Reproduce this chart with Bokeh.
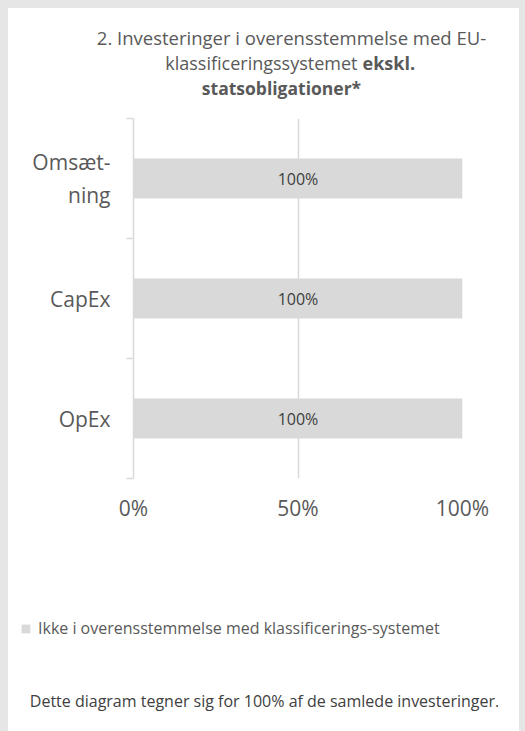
from bokeh.plotting import figure
from bokeh.layouts import column
from bokeh.models import (ColumnDataSource, Range1d, FixedTicker, PrintfTickFormatter,
                          Label, Legend, LegendItem, GlobalInlineStyleSheet)
from bokeh.core.properties import value
from bokeh.embed import file_html
from bokeh.resources import INLINE

# ---- data (bottom to top) ----
categories = ["OpEx", "CapEx", "Omsætning"]
category_labels = ["OpEx", "CapEx", "Omsæt-\nning"]
values = [100, 100, 100]
bar_labels = ["100%", "100%", "100%"]
x_ticks = [0, 50, 100]
series_name = "Ikke i overensstemmelse med klassificerings-systemet"
title_line1 = "2. Investeringer i overensstemmelse med EU-"
title_line2a = "klassificeringssystemet"
title_line2b = "ekskl."
title_line3 = "statsobligationer*"
footer = "Dette diagram tegner sig for 100% af de samlede investeringer."

FONT = "Open Sans"
TXT = "#595959"
DARK = "#404040"
GRID = "#d9d9d9"
BAR = "#d9d9d9"
W = 511

page_css = GlobalInlineStyleSheet(css=(
    "html,body{background:#e7e6e6 !important;margin:0 !important;}"
    "body{padding:8px 0 0 8px !important;box-sizing:border-box !important;}"))


def blank(height):
    f = figure(width=W, height=height, output_backend="svg", toolbar_location=None,
               x_range=Range1d(0, 1), y_range=Range1d(0, 1),
               min_border=0, min_border_left=0, min_border_right=0,
               min_border_top=0, min_border_bottom=0)
    f.frame_align = False
    f.axis.visible = False
    f.grid.visible = False
    f.outline_line_color = None
    f.background_fill_color = "white"
    f.border_fill_color = "white"
    return f


# ---- title block ----
top = blank(105)
top.stylesheets = [page_css]
tkw = dict(x_units="screen", y_units="screen", text_font=FONT,
           text_font_size="18px", text_color=TXT, text_baseline="middle")
top.add_layout(Label(x=283, y=76, text=title_line1, text_align="center",
                     **dict(tkw, text_font_size="18.5px")))
top.add_layout(Label(x=349, y=51, text=title_line2a, text_align="right", **tkw))
top.add_layout(Label(x=354, y=51, text=title_line2b, text_align="left",
                     text_font_style="bold", **tkw))
top.add_layout(Label(x=273, y=26, text=title_line3, text_align="center",
                     text_font_style="bold", **dict(tkw, text_font_size="17.5px")))

# ---- chart ----
pos = [i + 0.5 for i in range(len(categories))]
src = ColumnDataSource(dict(
    y=pos, right=values, left=[0] * len(values),
    xm=[v / 2 for v in values], lab=bar_labels))

chart = figure(width=W, height=425, output_backend="svg", toolbar_location=None,
               x_range=Range1d(0, 100), y_range=Range1d(0, len(categories)),
               min_border_left=125, min_border_right=57,
               min_border_top=5, min_border_bottom=60)
chart.frame_align = False
chart.outline_line_color = None
chart.background_fill_color = "white"
chart.border_fill_color = "white"

chart.hbar(y="y", left="left", right="right", height=1 / 3, source=src,
           fill_color=BAR, line_color=None)
chart.text(x="xm", y="y", text="lab", source=src, text_align="center",
           text_baseline="middle", text_font=value(FONT), text_font_size="16px",
           text_color=DARK)

chart.xaxis.ticker = FixedTicker(ticks=x_ticks)
chart.xaxis.formatter = PrintfTickFormatter(format="%d%%")
chart.xaxis.axis_line_color = None
chart.xaxis.major_tick_line_color = None
chart.xaxis.minor_tick_line_color = None
chart.xaxis.major_label_text_font = FONT
chart.xaxis.major_label_text_font_size = "21px"
chart.xaxis.major_label_text_color = TXT
chart.xaxis.major_label_standoff = 9

chart.yaxis.ticker = FixedTicker(ticks=pos, minor_ticks=list(range(len(categories) + 1)))
chart.yaxis.major_label_overrides = {pv: lab for pv, lab in zip(pos, category_labels)}
chart.yaxis.axis_line_color = GRID
chart.yaxis.axis_line_width = 1.5
chart.yaxis.major_tick_line_color = None
chart.yaxis.major_tick_out = 0
chart.yaxis.major_tick_in = 0
chart.yaxis.minor_tick_line_color = GRID
chart.yaxis.minor_tick_line_width = 1.5
chart.yaxis.minor_tick_out = 7
chart.yaxis.minor_tick_in = 0
chart.yaxis.major_label_text_font = FONT
chart.yaxis.major_label_text_font_size = "21px"
chart.yaxis.major_label_text_color = TXT
chart.yaxis.major_label_standoff = 16

chart.xgrid.ticker = FixedTicker(ticks=x_ticks)
chart.xgrid.grid_line_color = GRID
chart.xgrid.grid_line_width = 1.5
chart.ygrid.grid_line_color = None

# ---- legend + footer ----
bottom = blank(193)
swatch = bottom.hbar(y="y", left="left", right="right", height=1 / 3, source=src,
                     fill_color=BAR, line_color=None, visible=False)
legend = Legend(items=[LegendItem(label=series_name, renderers=[swatch])],
                location=(12, 92), orientation="horizontal",
                glyph_width=11, glyph_height=11, label_standoff=7,
                label_text_font=FONT, label_text_font_size="16px",
                label_text_color=TXT, border_line_color=None,
                background_fill_alpha=0, padding=0, margin=0, spacing=0,
                label_height=20, inactive_fill_alpha=0)
bottom.add_layout(legend)
fkw = dict(tkw)
fkw.update(text_font_size="16px", text_color=DARK)
bottom.add_layout(Label(x=256, y=31, text=footer, text_align="center", **fkw))

p = column(top, chart, bottom, spacing=0)
p.styles = {"background-color": "white"}

open("out.html", "w").write(file_html(p, INLINE))
